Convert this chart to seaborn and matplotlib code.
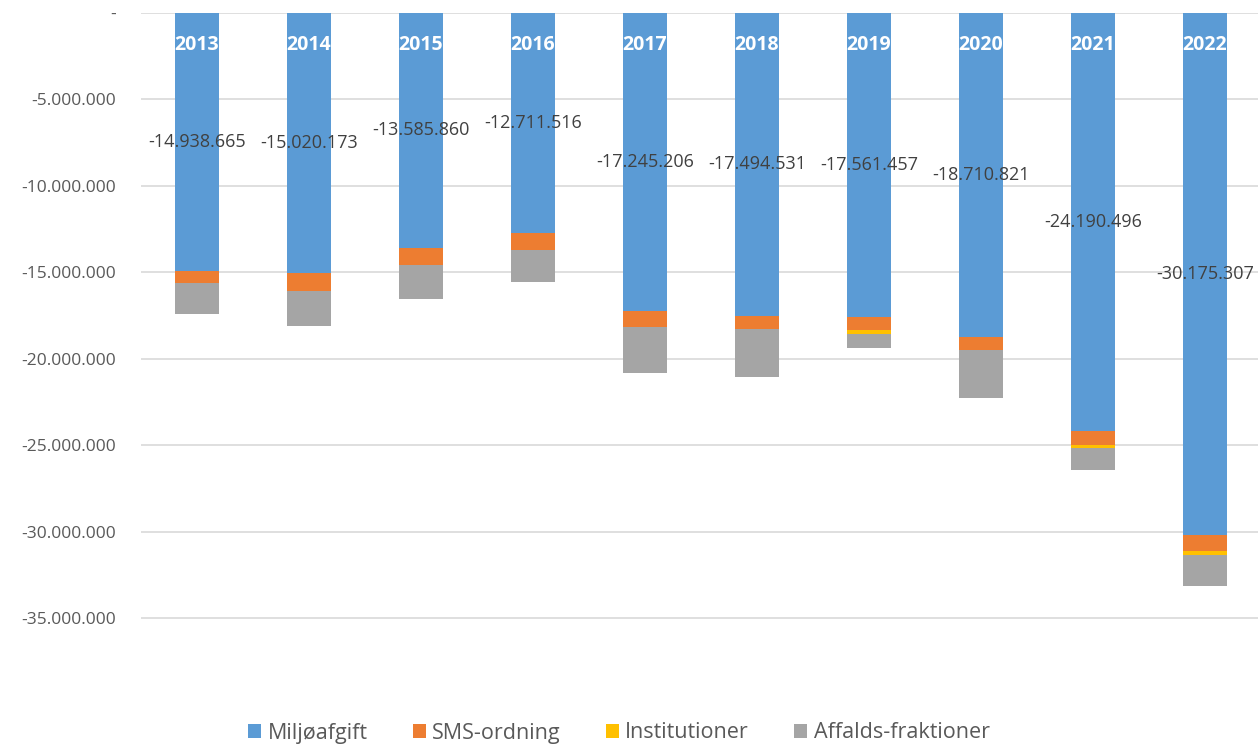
import numpy as np
import pandas as pd
import matplotlib
matplotlib.use("Agg")
import matplotlib.pyplot as plt
from matplotlib.patches import Patch
import seaborn as sns

# Data (DKK, negative)
years = ["2013", "2014", "2015", "2016", "2017", "2018", "2019", "2020", "2021", "2022"]
miljoafgift = [-14938665, -15020173, -13585860, -12711516, -17245206,
               -17494531, -17561457, -18710821, -24190496, -30175307]
sms_ordning = [-700000, -1040000, -980000, -970000, -910000,
               -780000, -750000, -790000, -780000, -910000]
institutioner = [0, 0, 0, 0, 0, 0, -230000, 0, -210000, -270000]
affalds_fraktioner = [-1740000, -2030000, -1970000, -1860000, -2670000,
                      -2770000, -810000, -2770000, -1220000, -1760000]

series_names = ["Miljøafgift", "SMS-ordning", "Institutioner", "Affalds-fraktioner"]
colors = ["#5B9BD5", "#ED7D31", "#FFC000", "#A5A5A5"]

df = pd.DataFrame({
    "year": years,
    "Miljøafgift": miljoafgift,
    "SMS-ordning": sms_ordning,
    "Institutioner": institutioner,
    "Affalds-fraktioner": affalds_fraktioner,
})

# cumulative sums so that bars can be overlaid to look stacked
cum = df[series_names].cumsum(axis=1)
cum["year"] = df["year"]

sns.set_theme(style="white")
plt.rcParams["font.family"] = ["Open Sans", "DejaVu Sans"]

fig = plt.figure(figsize=(12.58, 7.46), dpi=100)
ax = fig.add_axes([141 / 1258, 1 - 703 / 746, 1120 / 1258, 690 / 746])

# draw largest cumulative first, then overlay smaller ones
for name, col in reversed(list(zip(series_names, colors))):
    sns.barplot(data=cum, x="year", y=name, color=col, width=0.4,
                saturation=1, ax=ax, zorder=3, edgecolor="none", linewidth=0)

ax.set_ylim(-39900000, 0)
ax.set_xlim(-0.5, 9.5)
ax.set_yticks(np.arange(-35000000, 1, 5000000))


def fmt(v):
    if v == 0:
        return "-"
    return "-" + f"{abs(int(v)):,}".replace(",", ".")


ax.set_yticklabels([fmt(v) for v in ax.get_yticks()], color="#595959", fontsize=12.5)
ax.tick_params(axis="y", length=0, pad=18)
ax.tick_params(axis="x", length=0, labelbottom=False)
ax.set_xlabel("")
ax.set_ylabel("")
ax.grid(axis="y", color="#D9D9D9", linewidth=1.2, zorder=0)
ax.set_axisbelow(True)
for s in ax.spines.values():
    s.set_visible(False)

# year labels inside bars and value labels
for i, (y, v) in enumerate(zip(years, miljoafgift)):
    ax.text(i, -1850000, y, color="white", fontweight="bold", fontsize=14,
            ha="center", va="center", zorder=5)
    ax.text(i, v / 2, fmt(v), color="#404040", fontsize=13,
            ha="center", va="center", zorder=5)

handles = [Patch(facecolor=c, edgecolor="none") for c in colors]
fig.legend(handles, series_names, loc="center", bbox_to_anchor=(0.492, 1 - 733 / 746),
           ncol=4, frameon=False, fontsize=15.5, handlelength=0.6, handleheight=0.6,
           handletextpad=0.3, columnspacing=2.1, labelcolor="#595959")

fig.savefig("out.png", dpi=100)
